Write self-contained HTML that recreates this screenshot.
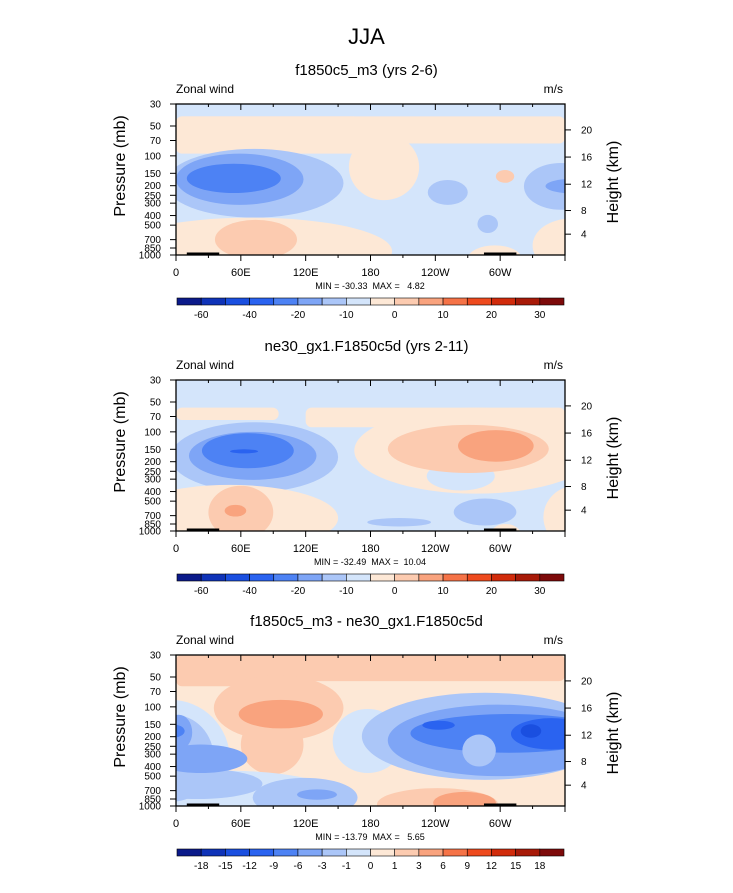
<!DOCTYPE html>
<html><head><meta charset="utf-8"><style>
body{margin:0;background:#fff;font-family:"Liberation Sans",sans-serif}
svg text{font-family:"Liberation Sans",sans-serif;white-space:pre}
</style></head><body>
<svg id="chart" width="733" height="888" xmlns="http://www.w3.org/2000/svg"></svg>
<script>
// ---- data ----
const colors = ["#0b1a8a","#0f33b8","#1a4fe0","#2a63f0","#4d82f4","#7ea5f6","#abc6f8","#d4e5fb","#fde8d6","#fccbb0","#f9a37e","#f57347","#ee4a1e","#d12b0b","#a81a08","#7d0a0a"];
const panelTitles = ["f1850c5_m3 (yrs 2-6)","ne30_gx1.F1850c5d (yrs 2-11)","f1850c5_m3 - ne30_gx1.F1850c5d"];
const panelMinMax = ["MIN = -30.33  MAX =   4.82","MIN = -32.49  MAX =  10.04","MIN = -13.79  MAX =   5.65"];
const panelBackground = [7,7,8];
const cbLabels1 = ["-60","","-40","","-20","","-10","","0","","10","","20","","30"];
const cbLabels3 = ["-18","-15","-12","-9","-6","-3","-1","0","1","3","6","9","12","15","18"];
const pressureTicks = [30,50,70,100,150,200,250,300,400,500,700,850,1000];
const heightTicks = [4,8,12,16,20];
const lonTicks = [0,60,120,180,240,300];
const lonLabels = ["0","60E","120E","180","120W","60W"];
// contour regions: [type, lon1, lon2, p1, p2, level]
const regions1 = [
 ["r",0,360,40,75,8],["r",0,170,40,95,8],["e",160,225,60,280,8],
 ["e",-10,155,85,420,6],["e",0,118,95,312,5],["e",10,97,120,237,4],
 ["e",233,270,175,312,6],["e",322,390,118,350,6],["e",342,395,170,240,5],
 ["e",279,298,394,600,6],["e",296,313,139,187,9],
 ["e",-60,200,420,2000,8],["e",330,400,430,1500,8],["e",270,320,800,1500,8],
 ["e",36,112,442,1100,9]
];
const regions2 = [
 ["r",0,95,57,76,8],["r",120,360,57,90,8],["e",165,390,57,420,8],
 ["e",232,295,200,390,7],
 ["e",196,345,85,260,9],["e",261,331,96,200,10],
 ["e",-5,150,80,404,6],["e",12,130,100,305,5],["e",24,109,103,233,4],["e",50,76,150,165,3],
 ["e",-50,150,343,1600,8],["e",30,90,350,1200,9],["e",45,65,545,715,10],
 ["e",177,236,740,900,6],["e",257,315,470,880,6],
 ["e",340,400,350,1500,8],["e",290,320,850,1500,8]
];
const regions3 = [
 ["r",0,360,30,55,9],["r",0,120,30,62,9],
 ["e",35,155,48,220,9],["e",60,118,120,480,9],["e",58,136,85,165,10],
 ["e",-60,50,85,1400,7],["e",-60,150,440,1400,7],
 ["e",-40,35,120,900,6],["e",-40,80,420,850,6],
 ["e",-10,15,120,272,5],["e",-20,66,240,465,5],["e",-15,8,150,205,4],
 ["e",145,210,105,465,7],
 ["e",172,400,72,545,6],["e",196,400,95,500,5],["e",217,400,118,290,4],
 ["e",228,258,138,170,3],["e",310,385,130,270,3],["e",319,338,150,205,2],
 ["e",265,296,190,400,6],
 ["e",186,298,660,1400,9],["e",238,296,720,1200,10],
 ["e",71,168,520,1300,6],["e",112,149,680,866,5]
];
const allRegions = [regions1,regions2,regions3];
const panelTops = [104,380,655];
// land (black) bars [lon1, lon2]
const land = [[10,40],[285,315]];

// ---- drawing ----
const svg = document.getElementById('chart');
const NS = "http://www.w3.org/2000/svg";
const X0 = 176, W = 389, H = 151;
function xs(lon){return X0 + lon/360*W;}
function ysF(top){return p => top + Math.log(p/30)/Math.log(1000/30)*H;}
function mk(tag, attrs, parent){const e=document.createElementNS(NS,tag);for(const k in attrs)e.setAttribute(k,attrs[k]);(parent||svg).appendChild(e);return e;}
function txt(s,x,y,size,anchor,parent){const t=mk('text',{x:x,y:y,'font-size':size,'text-anchor':anchor||'start',fill:'#000'},parent);t.textContent=s;return t;}
function heightToP(z){return z<=11?1013.25*Math.pow(1-0.0065*z*1000/288.15,5.2559):226.32*Math.exp(-(z-11)/6.3416);}

const title = txt("JJA",366.5,44,22,'middle');



mk('defs',{});
panelTops.forEach((top,pi)=>{
  const ys = ysF(top);
  const g = mk('g',{});
  
  
  const st = txt(panelTitles[pi],366.5,top-29,15,'middle',g);
  
  
  const zl = txt("Zonal wind",176,top-11,12,'start',g);
  
  
  const ul = txt("m/s",563,top-11,12,'end',g);
  
  
  const cp = mk('clipPath',{id:'clip'+pi},svg.querySelector('defs'));
  mk('rect',{x:X0,y:top,width:W,height:H},cp);
  const plot = mk('g',{'clip-path':'url(#clip'+pi+')'},g);
  
  
  const bg = mk('rect',{x:X0,y:top,width:W,height:H,fill:colors[panelBackground[pi]]},plot);
  
  
  allRegions[pi].forEach(r=>{
    const [t,l1,l2,p1,p2,lev]=r;
    const x1=xs(l1),x2=xs(l2),y1=ys(p1),y2=ys(p2);
    let el;
    if(t==='r') el=mk('rect',{x:x1,y:y1,width:x2-x1,height:y2-y1,rx:6,fill:colors[lev]},plot);
    else el=mk('ellipse',{cx:(x1+x2)/2,cy:(y1+y2)/2,rx:(x2-x1)/2,ry:(y2-y1)/2,fill:colors[lev]},plot);
    
    
  });
  land.forEach(l=>{
    const el=mk('rect',{x:xs(l[0]),y:top+H-2.5,width:xs(l[1])-xs(l[0]),height:3,fill:'#000'},plot);
    
    
  });
  const frame=mk('rect',{x:X0,y:top,width:W,height:H,fill:'none',stroke:'#000','stroke-width':1.3},g);
  
  
  pressureTicks.forEach(p=>{
    const y=ys(p);
    mk('line',{x1:X0-6,x2:X0,y1:y,y2:y,stroke:'#000','stroke-width':1},g);
    const t=txt(String(p),161,y+3.5,10,'end',g);
    
    
  });
  heightTicks.forEach(z=>{
    const y=ys(heightToP(z));
    mk('line',{x1:X0+W,x2:X0+W+6,y1:y,y2:y,stroke:'#000','stroke-width':1},g);
    const t=txt(String(z),581,y+3.5,10,'start',g);
    
    
  });
  for(let lon=0;lon<=360;lon+=30){
    const major=lon%60===0, x=xs(lon);
    mk('line',{x1:x,x2:x,y1:top+H,y2:top+H+(major?6:3),stroke:'#000'},g);
    mk('line',{x1:x,x2:x,y1:top,y2:top+(major?6:3),stroke:'#000'},g);
  }
  lonTicks.forEach((lon,i)=>{
    const t=txt(lonLabels[i],xs(lon),top+172,11,'middle',g);
    
    
  });
  const yl=txt("Pressure (mb)",0,0,16,'middle',g);
  yl.setAttribute('transform','translate(125,'+(top+62)+') rotate(-90)');
  
  
  const hl=txt("Height (km)",0,0,16,'middle',g);
  hl.setAttribute('transform','translate(618,'+(top+78)+') rotate(-90)');
  
  
  const mm=txt(panelMinMax[pi],370,top+185,9,'middle',g);
  mm.setAttribute('xml:space','preserve');
  
  
  const cb=mk('g',{},g);
  
  
  const cx0=177, cw=387/16, cy=top+194;
  colors.forEach((c,k)=>{
    const b=mk('rect',{x:cx0+k*cw,y:cy,width:cw,height:7,fill:c,stroke:'#000','stroke-width':0.6},cb);
    
    
  });
  const labs = pi===2?cbLabels3:cbLabels1;
  labs.forEach((s,k)=>{
    if(!s) return;
    const t=txt(s,cx0+(k+1)*cw,top+214,10,'middle',cb);
    
    
  });
});
</script>
</body></html>
